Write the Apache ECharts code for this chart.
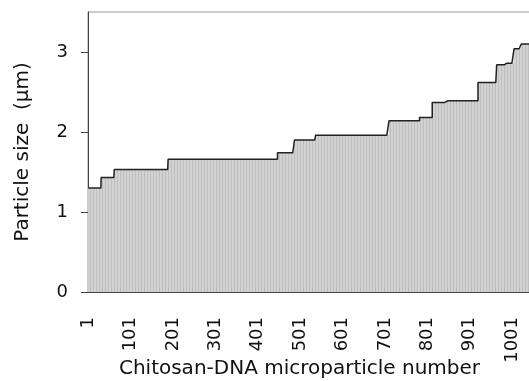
<!DOCTYPE html>
<html>
<head>
<meta charset="utf-8">
<script src="https://cdn.jsdelivr.net/npm/echarts@6/dist/echarts.min.js"></script>
<style>
  html, body { margin: 0; padding: 0; background: #fff; }
  #chart { width: 529px; height: 381px; }
</style>
</head>
<body>
<div id="chart"></div>
<script>
// particle sizes are sorted, so the curve is a run of flat steps:
// each step starts at a particle number and holds one size (µm)
const stepStart = [1, 32, 63, 190, 448, 488, 538, 711, 783, 813, 845, 921, 965, 985, 1006, 1023];
const stepSize  = [1.30, 1.43, 1.53, 1.66, 1.74, 1.90, 1.96, 2.14, 2.18, 2.37, 2.39, 2.62, 2.84, 2.86, 3.04, 3.10];
const particleCount = 1045;
const yTicks = [0, 1, 2, 3];

// one category per particle
const particles = [];
const sizes = [];
let s = 0;
for (let i = 1; i <= particleCount; i++) {
    while (s + 1 < stepStart.length && i >= stepStart[s + 1]) s++;
    particles.push(String(i));
    sizes.push(stepSize[s]);
}

const font = 'DejaVu Sans, Verdana, sans-serif';
const chart = echarts.init(document.getElementById('chart'));
chart.setOption({
    animation: false,
    backgroundColor: '#fff',
    grid: {
        left: 88,
        top: 12,
        bottom: 89,
        right: -2,
        outerBoundsMode: 'none',
        containLabel: false,
        show: true,
        borderColor: '#999',
        borderWidth: 1
    },
    xAxis: {
        type: 'category',
        data: particles,
        name: 'Chitosan-DNA microparticle number',
        nameLocation: 'middle',
        nameGap: 67,
        nameMoveOverlap: false,
        nameTextStyle: { fontSize: 20, color: '#111', fontFamily: font, padding: [0, 20, 0, 0] },
        axisLine: { lineStyle: { color: '#444', width: 1 } },
        axisTick: { interval: 99, alignWithLabel: true, length: 8, lineStyle: { color: '#444' } },
        axisLabel: {
            interval: 99,
            rotate: 90,
            margin: 25,
            fontSize: 18,
            color: '#111',
            fontFamily: font
        },
        splitLine: { show: false }
    },
    yAxis: {
        type: 'value',
        min: 0,
        max: 3.5,
        interval: 1,
        name: 'Particle size  (µm)',
        nameLocation: 'middle',
        nameGap: 55,
        nameMoveOverlap: false,
        nameTextStyle: { fontSize: 20, color: '#111', fontFamily: font },
        axisLine: { show: true, lineStyle: { color: '#444', width: 1 } },
        axisTick: { show: true, length: 7, customValues: yTicks, lineStyle: { color: '#444' } },
        axisLabel: { customValues: yTicks, margin: 20, fontSize: 18, color: '#111', fontFamily: font },
        splitLine: { show: false }
    },
    series: [
        {
            type: 'bar',
            data: sizes,
            barCategoryGap: '0%',
            itemStyle: {
                color: '#d2d2d2',
                decal: {
                    symbol: 'rect',
                    symbolSize: 1,
                    dashArrayX: [1, 2],
                    dashArrayY: [4, 0],
                    color: 'rgba(120,120,120,0.22)'
                }
            }
        },
        {
            type: 'line',
            data: sizes,
            step: 'middle',
            symbol: 'none',
            z: 5,
            lineStyle: { color: '#222', width: 1.5 }
        }
    ]
});
</script>
</body>
</html>
